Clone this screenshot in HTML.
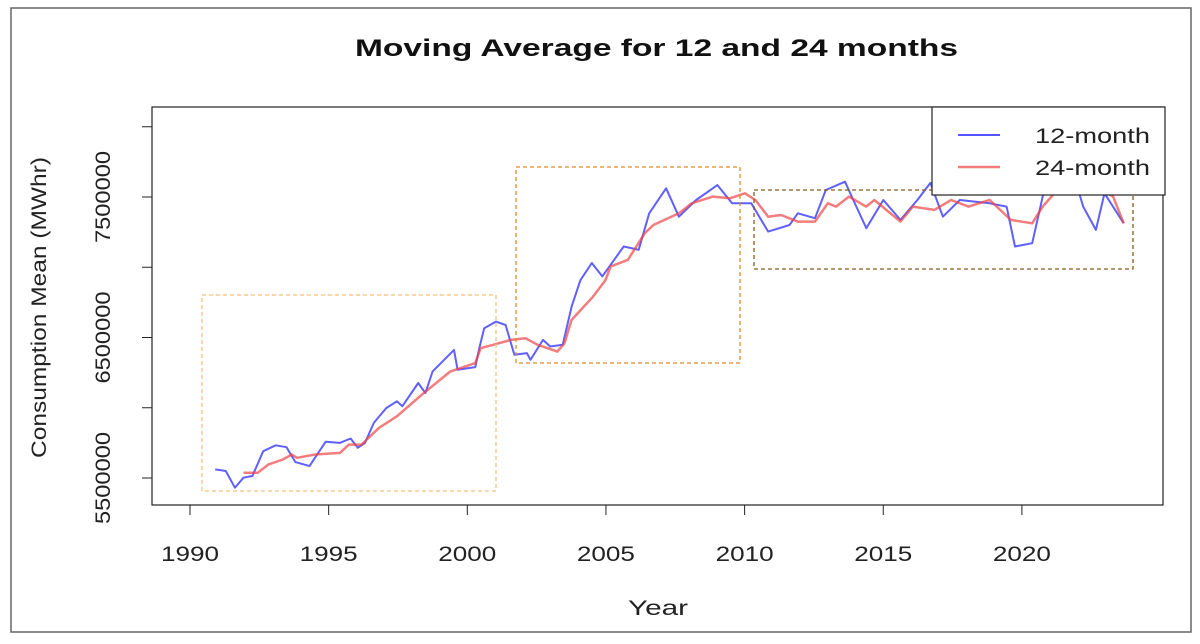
<!DOCTYPE html>
<html><head><meta charset="utf-8"><style>
body{margin:0;background:#fff;}
svg{display:block;font-family:"Liberation Sans",sans-serif;}
</style></head><body>
<svg id="chart" width="1200" height="644">
<rect x="11" y="8" width="1180" height="624" fill="#fff" stroke="#666" stroke-width="1.5"/>
<text x="355" y="56" textLength="603" lengthAdjust="spacingAndGlyphs" font-size="24" font-weight="bold" fill="#111">Moving Average for 12 and 24 months</text>
<rect x="152" y="107" width="1011" height="398" fill="none" stroke="#222" stroke-width="1.2"/>
<g id="axes"></g>
<g id="series"></g>
<rect x="202" y="295" width="294" height="196" fill="none" stroke="#f5c27a" stroke-width="1.3" stroke-dasharray="4,3"/>
<rect x="516" y="167" width="224" height="196" fill="none" stroke="#e08a2a" stroke-width="1.3" stroke-dasharray="4,3"/>
<rect x="754" y="190" width="379" height="79" fill="none" stroke="#8b5a1a" stroke-width="1.3" stroke-dasharray="4,3"/>
<g>
<rect x="932" y="107" width="233" height="88" fill="#fff" stroke="#222" stroke-width="1.2"/>
<line x1="958" y1="135" x2="1000" y2="135" stroke="#2b2bff" stroke-width="2" opacity="0.8"/>
<text x="1035" y="143" textLength="115" lengthAdjust="spacingAndGlyphs" font-size="21" fill="#222">12-month</text>
<line x1="958" y1="167" x2="1000" y2="167" stroke="#ee4444" stroke-width="2.5" opacity="0.7"/>
<text x="1035" y="175" textLength="115" lengthAdjust="spacingAndGlyphs" font-size="21" fill="#222">24-month</text>
</g>
<text x="628" y="615" textLength="60" lengthAdjust="spacingAndGlyphs" font-size="21" fill="#222">Year</text>
<text x="0" y="0" transform="translate(46,458) rotate(-90)" textLength="301" lengthAdjust="spacingAndGlyphs" font-size="21" fill="#222">Consumption Mean (MWhr)</text>
</svg>
<script>
const xTicks = [1990, 1995, 2000, 2005, 2010, 2015, 2020];
const yTicks = [5500000, 6500000, 7500000];
const yMinorTicks = [6000000, 7000000, 8000000];
const blueYears = [1990.91,1991.29,1991.62,1991.93,1992.25,1992.64,1993.09,1993.48,1993.80,1994.31,1994.89,1995.40,1995.79,1996.05,1996.31,1996.63,1997.08,1997.46,1997.66,1998.23,1998.49,1998.75,1999.52,1999.65,2000.29,2000.42,2000.61,2001.03,2001.38,2001.70,2002.15,2002.28,2002.73,2002.99,2003.44,2003.76,2004.08,2004.49,2004.87,2005.64,2006.18,2006.56,2007.17,2007.63,2008.25,2009.02,2009.55,2010.24,2010.85,2011.62,2011.92,2012.54,2012.93,2013.62,2013.92,2014.39,2015.00,2015.62,2016.23,2016.70,2017.15,2017.76,2018.84,2019.45,2019.75,2020.37,2020.83,2021.3,2021.8,2022.21,2022.67,2022.98,2023.67];
const blueValues = [5.561,5.550,5.431,5.502,5.514,5.691,5.733,5.719,5.613,5.585,5.758,5.750,5.781,5.715,5.750,5.892,5.998,6.046,6.011,6.176,6.105,6.259,6.412,6.270,6.289,6.412,6.566,6.613,6.589,6.377,6.389,6.341,6.483,6.436,6.448,6.720,6.908,7.030,6.935,7.148,7.124,7.384,7.562,7.360,7.479,7.585,7.455,7.455,7.254,7.301,7.384,7.349,7.550,7.609,7.479,7.278,7.479,7.337,7.479,7.60,7.360,7.479,7.455,7.432,7.148,7.171,7.573,7.70,7.70,7.432,7.266,7.526,7.313];
const redYears = [1991.93,1992.45,1992.83,1993.35,1993.67,1993.86,1994.51,1995.41,1995.73,1996.18,1996.82,1997.46,1998.36,1999.39,2000.29,2000.48,2000.93,2001.57,2002.09,2002.54,2003.25,2003.50,2003.76,2004.53,2004.98,2005.17,2005.79,2006.40,2006.71,2007.63,2008.09,2008.86,2009.47,2010.01,2010.39,2010.85,2011.31,2011.92,2012.54,2013.00,2013.30,2013.76,2014.38,2014.68,2015.62,2016.07,2016.84,2017.45,2018.07,2018.84,2019.60,2020.37,2020.75,2021.5,2022.5,2023.29,2023.67];
const redValues = [5.538,5.538,5.597,5.632,5.667,5.644,5.667,5.679,5.738,5.738,5.857,5.939,6.093,6.259,6.318,6.424,6.448,6.483,6.495,6.448,6.400,6.459,6.625,6.790,6.908,7.006,7.053,7.242,7.301,7.384,7.455,7.503,7.491,7.526,7.479,7.360,7.372,7.325,7.325,7.455,7.432,7.503,7.432,7.479,7.325,7.432,7.408,7.479,7.432,7.479,7.337,7.313,7.432,7.60,7.60,7.503,7.313];

const NS = 'http://www.w3.org/2000/svg';
function xScale(yr){ return 190 + (yr - 1990) * 27.73; }
function yScale(v){ return 197 + (7500000 - v) / 1000000 * 140.5; }
const axes = document.getElementById('axes');
const series = document.getElementById('series');
function mk(tag, attrs, parent){ const e = document.createElementNS(NS, tag); for (const k in attrs) e.setAttribute(k, attrs[k]); parent.appendChild(e); return e; }

xTicks.forEach(t => {
  const x = xScale(t);
  const l = mk('line', {x1:x, y1:505, x2:x, y2:515, stroke:'#222'}, axes);
  
  
  const tx = mk('text', {x:x - 29, y:561, textLength:58, lengthAdjust:'spacingAndGlyphs', 'font-size':21, fill:'#222'}, axes);
  tx.textContent = t;
  
  
});
mk('line', {x1:xScale(1990), y1:505, x2:xScale(2020), y2:505, stroke:'#222'}, axes);
yTicks.concat(yMinorTicks).forEach(t => {
  const y = yScale(t);
  const l = mk('line', {x1:142, y1:y, x2:152, y2:y, stroke:'#222'}, axes);
  
  
});
yTicks.forEach(t => {
  const y = yScale(t);
  const tx = mk('text', {x:0, y:0, transform:`translate(110,${y + 46}) rotate(-90)`, textLength:92, lengthAdjust:'spacingAndGlyphs', 'font-size':21, fill:'#222'}, axes);
  tx.textContent = t;
  
  
});
function line(years, vals, color, w, op, name){
  const d = years.map((yr, i) => (i ? 'L' : 'M') + xScale(yr).toFixed(1) + ',' + yScale(vals[i] * 1000000).toFixed(1)).join('');
  const p = mk('path', {d:d, fill:'none', stroke:color, 'stroke-width':w, opacity:op, 'stroke-linejoin':'round'}, series);
  
  
}
line(blueYears, blueValues, '#2b2bff', 2, 0.75, 'line-12-month');
line(redYears, redValues, '#ee4444', 2.5, 0.7, 'line-24-month');
</script>
</body></html>
